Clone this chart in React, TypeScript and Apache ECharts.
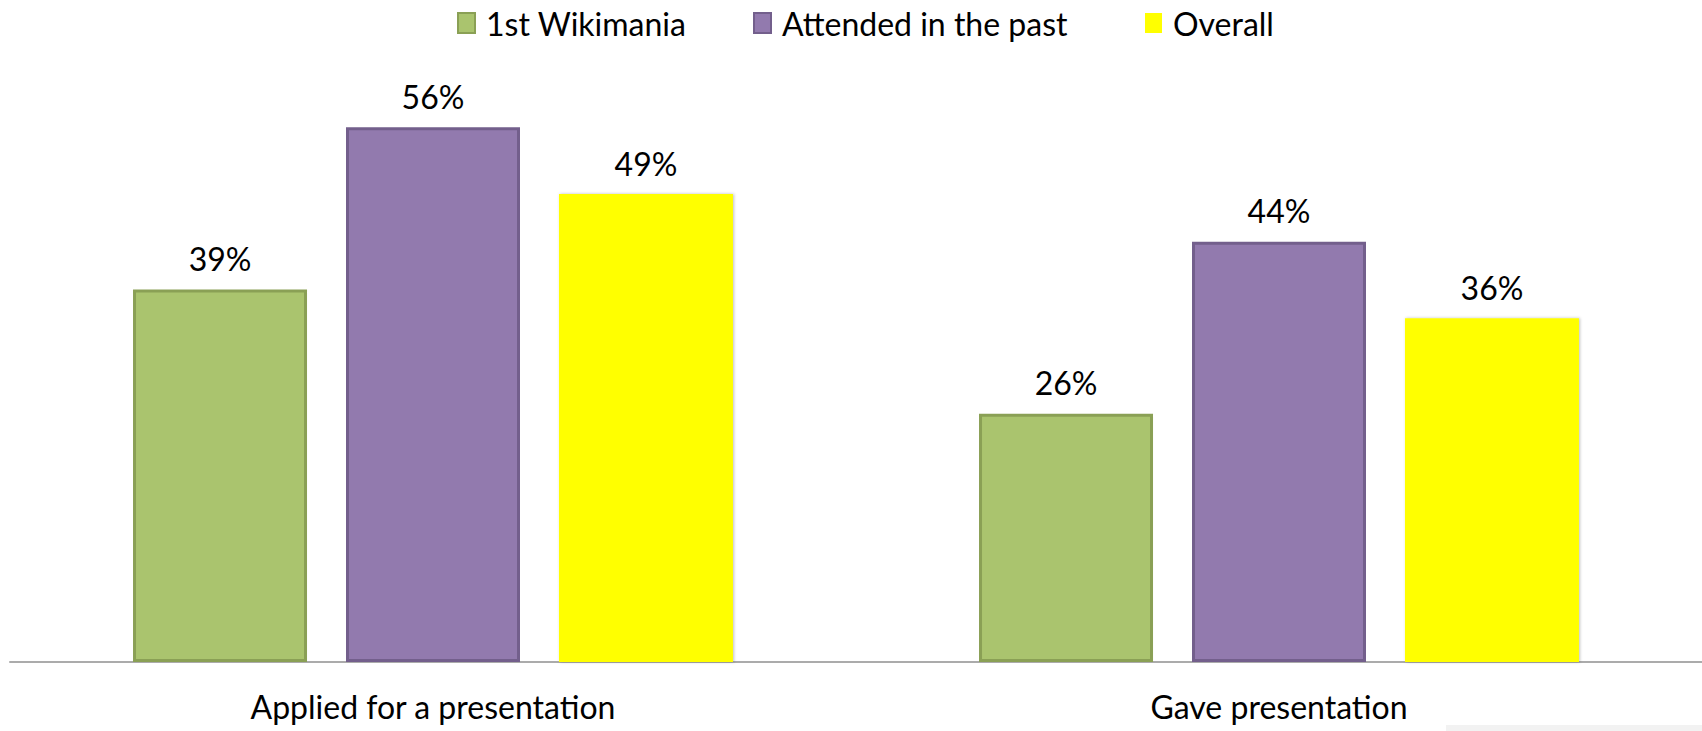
import React, { useEffect, useRef } from "react";
import * as echarts from "echarts";

const categories = ["Applied for a presentation", "Gave presentation"];
const firstWikimania = [39, 26];
const attendedPast = [56, 44];
const overall = [49, 36];
const seriesNames = ["1st Wikimania", "Attended in the past", "Overall"];

const FONT = "Lato, 'Noto Sans', sans-serif";
const FS = 32;

export default function App() {
  const ref = useRef<HTMLDivElement>(null);
  useEffect(() => {
    if (!ref.current) return;
    const chart = echarts.init(ref.current, undefined, { renderer: "svg" });
    const label = {
      show: true,
      position: "top",
      distance: 15,
      formatter: "{c}%",
      color: "#000",
      fontFamily: FONT,
      fontSize: FS,
    };
    const legendBase = {
      top: 2,
      icon: "rect",
      itemWidth: 17,
      itemHeight: 20,
      textStyle: { color: "#000", fontFamily: FONT, fontSize: FS, padding: [0, 0, 0, 6] },
      selectedMode: false,
    };
    chart.setOption({
      animation: false,
      backgroundColor: "#fff",
      legend: [
        { ...legendBase, left: 452, data: [seriesNames[0]] },
        { ...legendBase, left: 748, data: [seriesNames[1]] },
        { ...legendBase, left: 1140, data: [seriesNames[2]] },
      ],
      grid: { left: 10, width: 1694, top: 89, bottom: 69, containLabel: false },
      xAxis: {
        type: "category",
        data: categories,
        axisLine: { lineStyle: { color: "#ABABAB", width: 2 } },
        axisTick: { show: false },
        axisLabel: { color: "#000", fontFamily: FONT, fontSize: FS, margin: 28 },
      },
      yAxis: {
        type: "value",
        min: 0,
        max: 60,
        interval: 10,
        show: false,
        splitLine: { show: false },
      },
      series: [
        {
          name: seriesNames[0],
          type: "bar",
          data: firstWikimania,
          barWidth: 174,
          barGap: "22.4%",
          itemStyle: { color: "#AAC46E", borderColor: "#8AA055", borderWidth: 3 },
          label,
        },
        {
          name: seriesNames[1],
          type: "bar",
          data: attendedPast,
          barWidth: 174,
          barGap: "22.4%",
          itemStyle: { color: "#927AAE", borderColor: "#735F8C", borderWidth: 3 },
          label,
        },
        {
          name: seriesNames[2],
          type: "bar",
          data: overall,
          barWidth: 174,
          barGap: "22.4%",
          itemStyle: {
            color: "#FFFF00",
            shadowColor: "rgba(0,0,0,0.25)",
            shadowBlur: 3,
            shadowOffsetX: 1,
          },
          label,
        },
      ],
      graphic: [
        {
          type: "rect",
          shape: { x: 1446, y: 725, width: 256, height: 6 },
          style: { fill: "#F2F2F2" },
          silent: true,
        },
      ],
    });
    return () => chart.dispose();
  }, []);
  return (
    <div
      ref={ref}
      style={{ position: "absolute", left: 0, top: 0, width: 1702, height: 731 }}
    />
  );
}
